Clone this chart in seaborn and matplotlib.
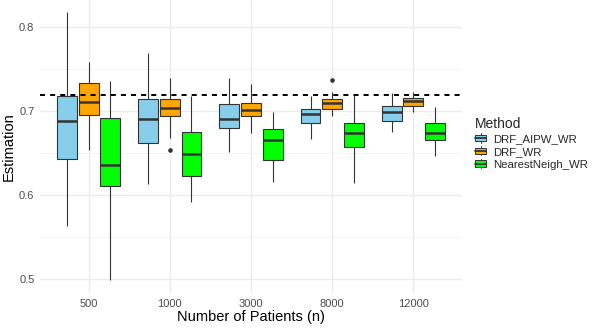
import numpy as np
import pandas as pd
import matplotlib
matplotlib.use("Agg")
import matplotlib.pyplot as plt
import seaborn as sns
from matplotlib.legend_handler import HandlerBase
from matplotlib.patches import Rectangle, Patch
from matplotlib.lines import Line2D
from matplotlib.ticker import FixedLocator

# ---------------- data ----------------
sizes = ["500", "1000", "3000", "8000", "12000"]
methods = ["DRF_AIPW_WR", "DRF_WR", "NearestNeigh_WR"]
colors = ["#87CEEB", "#FFA500", "#00FF00"]

# lower whisker, Q1, median, Q3, upper whisker per sample size
aipw_lo = [0.563, 0.613, 0.651, 0.667, 0.675]
aipw_q1 = [0.643, 0.662, 0.680, 0.685, 0.688]
aipw_med = [0.688, 0.690, 0.690, 0.6965, 0.699]
aipw_q3 = [0.717, 0.714, 0.708, 0.702, 0.706]
aipw_hi = [0.817, 0.769, 0.739, 0.717, 0.7215]
aipw_out = [[], [], [], [], []]

wr_lo = [0.653, 0.668, 0.674, 0.694, 0.699]
wr_q1 = [0.695, 0.694, 0.694, 0.702, 0.706]
wr_med = [0.710, 0.703, 0.701, 0.709, 0.7115]
wr_q3 = [0.733, 0.7135, 0.7095, 0.7145, 0.7155]
wr_hi = [0.758, 0.7385, 0.7315, 0.7225, 0.722]
wr_out = [[], [0.653], [], [0.736], []]

nn_lo = [0.499, 0.5915, 0.615, 0.6145, 0.646]
nn_q1 = [0.611, 0.622, 0.641, 0.657, 0.665]
nn_med = [0.636, 0.649, 0.665, 0.673, 0.674]
nn_q3 = [0.691, 0.675, 0.678, 0.686, 0.686]
nn_hi = [0.735, 0.7175, 0.698, 0.7195, 0.7045]
nn_out = [[], [], [], [], []]

truth = 0.719

# ---------------- build a sample matching each summary ----------------
summaries = {
    "DRF_AIPW_WR": (aipw_lo, aipw_q1, aipw_med, aipw_q3, aipw_hi, aipw_out),
    "DRF_WR": (wr_lo, wr_q1, wr_med, wr_q3, wr_hi, wr_out),
    "NearestNeigh_WR": (nn_lo, nn_q1, nn_med, nn_q3, nn_hi, nn_out),
}
rows = []
for m, (lo, q1, md, q3, hi, out) in summaries.items():
    for j, n in enumerate(sizes):
        vals = [lo[j]] + [q1[j]] * 20 + [md[j]] * 20 + [q3[j]] * 20 + [hi[j]] + list(out[j])
        for v in vals:
            rows.append((n, m, v))
df = pd.DataFrame(rows, columns=["n", "method", "value"])

# ---------------- plot ----------------
sns.set_style("white")
plt.rcParams["font.family"] = ["Liberation Sans", "DejaVu Sans"]

fig = plt.figure(figsize=(5.98, 3.29), dpi=100)
ax = fig.add_axes([0.0669, 0.1085, 0.7057, 0.8915])

edge = "#333333"
sns.boxplot(
    data=df, x="n", y="value", hue="method",
    order=sizes, hue_order=methods, palette=colors, saturation=1,
    width=0.8, gap=0.08, linecolor=edge, linewidth=0.8,
    showcaps=False, fliersize=2.3,
    medianprops=dict(linewidth=1.8, color=edge),
    flierprops=dict(marker="o", markerfacecolor=edge, markeredgecolor=edge),
    legend=False, ax=ax,
)

ax.axhline(truth, color="black", lw=1.4, ls=(0, (2.6, 2.6)), zorder=5)

ax.set_xlim(-0.6, 4.6)
ax.set_ylim(0.483, 0.8317)
ax.set_yticks([0.5, 0.6, 0.7, 0.8])
ax.set_yticklabels(["0.5", "0.6", "0.7", "0.8"])
ax.yaxis.set_minor_locator(FixedLocator([0.55, 0.65, 0.75]))
ax.set_axisbelow(True)
ax.grid(which="major", axis="both", color="#EBEBEB", lw=1.0)
ax.grid(which="minor", axis="y", color="#F2F2F2", lw=0.6)
for s in ax.spines.values():
    s.set_visible(False)
ax.tick_params(axis="both", which="both", length=0, labelsize=8, colors="#4D4D4D", pad=4)
ax.set_xlabel("Number of Patients (n)", fontsize=10.5, color="black", labelpad=1)
ax.set_ylabel("Estimation", fontsize=10.5, color="black", labelpad=2.5)


class BoxKey(HandlerBase):
    def create_artists(self, legend, orig_handle, xdescent, ydescent,
                       width, height, fontsize, trans):
        fc = orig_handle.get_facecolor()
        x0, y0 = -xdescent, -ydescent
        cx = x0 + width / 2
        wl = Line2D([cx, cx], [y0 - 0.1 * height, y0 + 1.1 * height],
                    color=edge, lw=0.7, transform=trans)
        box = Rectangle((x0, y0 + 0.1 * height), width, 0.8 * height,
                        facecolor=fc, edgecolor=edge, lw=0.7, transform=trans)
        med = Line2D([x0, x0 + width], [y0 + height / 2] * 2,
                     color=edge, lw=1.3, transform=trans)
        return [wl, box, med]


handles = [Patch(facecolor=c) for c in colors]
fig.legend(handles=handles, labels=methods, handler_map={Patch: BoxKey()},
           title="Method", loc="upper left",
           bbox_to_anchor=(475 / 598, 1 - 117 / 329),
           frameon=False, fontsize=8.2, title_fontsize=10,
           alignment="left", handlelength=0.97, handleheight=0.7,
           handletextpad=0.6, labelspacing=0.25,
           borderaxespad=0, borderpad=0)

fig.savefig("out.png", dpi=100)
